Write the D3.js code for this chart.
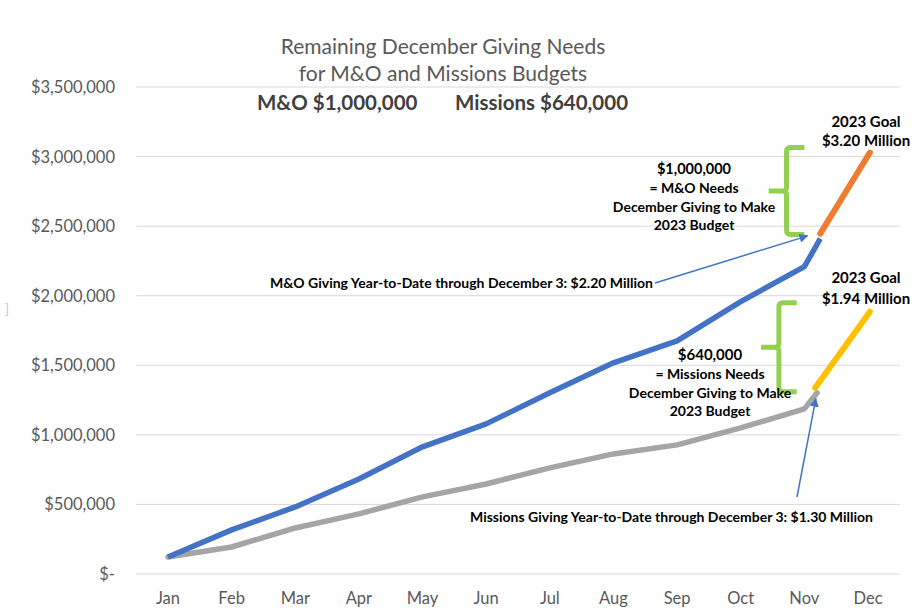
<!DOCTYPE html>
<html>
<head>
<meta charset="utf-8">
<script src="https://cdn.jsdelivr.net/npm/d3@7"></script>
<style>
  body { margin: 0; background: #fff; }
  svg { font-family: Lato, "Open Sans", sans-serif; }
  .grid line { stroke: #d9d9d9; stroke-width: 1; }
  .tick-lbl { fill: #595959; font-size: 16.5px; }
  .note { fill: #000; font-weight: bold; font-size: 14px; }
</style>
</head>
<body>
<div id="chart"></div>
<script>
// Remaining December giving needs: M&O vs Missions YTD lines, with Dec goal extensions.

const months = ["Jan","Feb","Mar","Apr","May","Jun","Jul","Aug","Sep","Oct","Nov","Dec"];
const yTicks = [0, 500000, 1000000, 1500000, 2000000, 2500000, 3000000, 3500000];

// YTD giving, one value per month Jan..Nov, then a point for December 3
const moGiving = [122000, 317000, 482000, 683000, 914000, 1079000, 1302000, 1518000, 1676000, 1957000, 2209000];
const missionsGiving = [122000, 194000, 331000, 432000, 554000, 647000, 763000, 863000, 928000, 1050000, 1187000];
const moDec3 = { m: 10.25, v: 2410000 };
const missionsDec3 = { m: 10.2, v: 1302000 };

// goal segments (month index, value)
const moGoal = [{ m: 10.25, v: 2446000 }, { m: 11.03, v: 3029000 }];
const missionsGoal = [{ m: 10.17, v: 1338000 }, { m: 11.03, v: 1885000 }];

// green braces: top / bottom value, month index of spine
const braces = [
  { m: 9.72, top: 3065000, bottom: 2440000 },
  { m: 9.6, top: 1950000, bottom: 1310000 }
];

const W = 919, H = 610;
const svg = d3.select("#chart").append("svg").attr("width", W).attr("height", H);

const x = d3.scaleLinear().domain([0, 11]).range([168, 868]);
const y = d3.scaleLinear().domain([0, 3500000]).range([574, 87]);
const step = x(1) - x(0);

// gridlines
svg.append("g").attr("class", "grid")
  .selectAll("line").data(yTicks).join("line")
  .attr("x1", x(0) - step / 2).attr("x2", x(11) + step / 2)
  .attr("y1", d => y(d)).attr("y2", d => y(d));

// y labels
const fmt = d => d === 0 ? "$-" : "$" + d3.format(",")(d);
svg.append("g").selectAll("text").data(yTicks).join("text")
  .attr("class", "tick-lbl")
  .attr("x", 115).attr("y", d => y(d) + 6)
  .attr("text-anchor", "end").text(fmt);

// x labels
svg.append("g").selectAll("text").data(months).join("text")
  .attr("class", "tick-lbl")
  .attr("x", (d, i) => x(i)).attr("y", 604)
  .attr("text-anchor", "middle").text(d => d);

// title
const title = svg.append("g").attr("fill", "#595959").attr("text-anchor", "middle");
title.append("text").attr("x", 443).attr("y", 54).attr("font-size", 21).text("Remaining December Giving Needs");
title.append("text").attr("x", 443).attr("y", 81).attr("font-size", 21).text("for M&O and Missions Budgets");
svg.append("text").attr("x", 257).attr("y", 110).attr("font-size", 20.5).attr("font-weight", "bold")
  .attr("fill", "#404040").text("M&O $1,000,000");
svg.append("text").attr("x", 455).attr("y", 110).attr("font-size", 20.5).attr("font-weight", "bold")
  .attr("fill", "#404040").text("Missions $640,000");

// stray mark at left edge
svg.append("text").attr("x", 5).attr("y", 314).attr("font-size", 13).attr("fill", "#c8c8c8").text("]");

const line = d3.line().x(d => x(d.m)).y(d => y(d.v));
const toPts = arr => arr.map((v, i) => ({ m: i, v }));

// lines
svg.append("path").attr("d", line(toPts(missionsGiving).concat([missionsDec3])))
  .attr("fill", "none").attr("stroke", "#a5a5a5").attr("stroke-width", 5.5)
  .attr("stroke-linejoin", "round").attr("stroke-linecap", "round");
svg.append("path").attr("d", line(toPts(moGiving).concat([moDec3])))
  .attr("fill", "none").attr("stroke", "#4472c4").attr("stroke-width", 5.5)
  .attr("stroke-linejoin", "round").attr("stroke-linecap", "butt");

svg.append("path").attr("d", line(moGoal))
  .attr("fill", "none").attr("stroke", "#ed7d31").attr("stroke-width", 6).attr("stroke-linecap", "round");
svg.append("path").attr("d", line(missionsGoal))
  .attr("fill", "none").attr("stroke", "#ffc000").attr("stroke-width", 6).attr("stroke-linecap", "round");

// braces
const brace = svg.append("g").attr("fill", "none").attr("stroke", "#92d050").attr("stroke-width", 5);
braces.forEach(b => {
  const sx = x(b.m), t = y(b.top), bt = y(b.bottom), mid = (t + bt) / 2;
  const hook = step * 0.28;
  brace.append("path")
    .attr("d", `M${sx + hook},${t} H${sx + 4} Q${sx},${t} ${sx},${t + 4} V${mid - 4} Q${sx},${mid} ${sx - 4},${mid} H${sx - hook}` +
      ` M${sx - 4},${mid} Q${sx},${mid} ${sx},${mid + 4} V${bt - 4} Q${sx},${bt} ${sx + 4},${bt} H${sx + hook}`);
});

// arrows
const defs = svg.append("defs");
defs.append("marker").attr("id", "arr").attr("viewBox", "0 0 10 10")
  .attr("refX", 9).attr("refY", 5).attr("markerWidth", 6).attr("markerHeight", 6)
  .attr("orient", "auto")
  .append("path").attr("d", "M0,0 L10,5 L0,10 z").attr("fill", "#4472c4");

svg.append("line")
  .attr("x1", 655).attr("y1", 283).attr("x2", x(10.05)).attr("y2", y(2430000))
  .attr("stroke", "#4472c4").attr("stroke-width", 1.5).attr("marker-end", "url(#arr)");
svg.append("line")
  .attr("x1", 797).attr("y1", 497).attr("x2", x(10.18)).attr("y2", y(1260000))
  .attr("stroke", "#4472c4").attr("stroke-width", 1.5).attr("marker-end", "url(#arr)");

// annotations
function block(cx, lines) {
  const g = svg.append("g").attr("class", "note").attr("text-anchor", "middle");
  lines.forEach(l => g.append("text").attr("x", cx).attr("y", l.y)
    .attr("font-size", l.size || 14).text(l.t));
}
block(866, [{ t: "2023 Goal", y: 127, size: 15 }, { t: "$3.20 Million", y: 146, size: 15 }]);
block(866, [{ t: "2023 Goal", y: 283, size: 15 }, { t: "$1.94 Million", y: 304, size: 15 }]);
block(694, [
  { t: "$1,000,000", y: 174, size: 14.5 },
  { t: "= M&O Needs", y: 193 },
  { t: "December Giving to Make", y: 212 },
  { t: "2023 Budget", y: 230 }
]);
block(710, [
  { t: "$640,000", y: 360, size: 15 },
  { t: "= Missions Needs", y: 379 },
  { t: "December Giving to Make", y: 398 },
  { t: "2023 Budget", y: 416 }
]);

svg.append("text").attr("class", "note").attr("x", 270).attr("y", 288)
  .text("M&O Giving Year-to-Date through December 3: $2.20 Million");
svg.append("text").attr("class", "note").attr("x", 470).attr("y", 522)
  .text("Missions Giving Year-to-Date through December 3: $1.30 Million");
</script>
</body>
</html>
